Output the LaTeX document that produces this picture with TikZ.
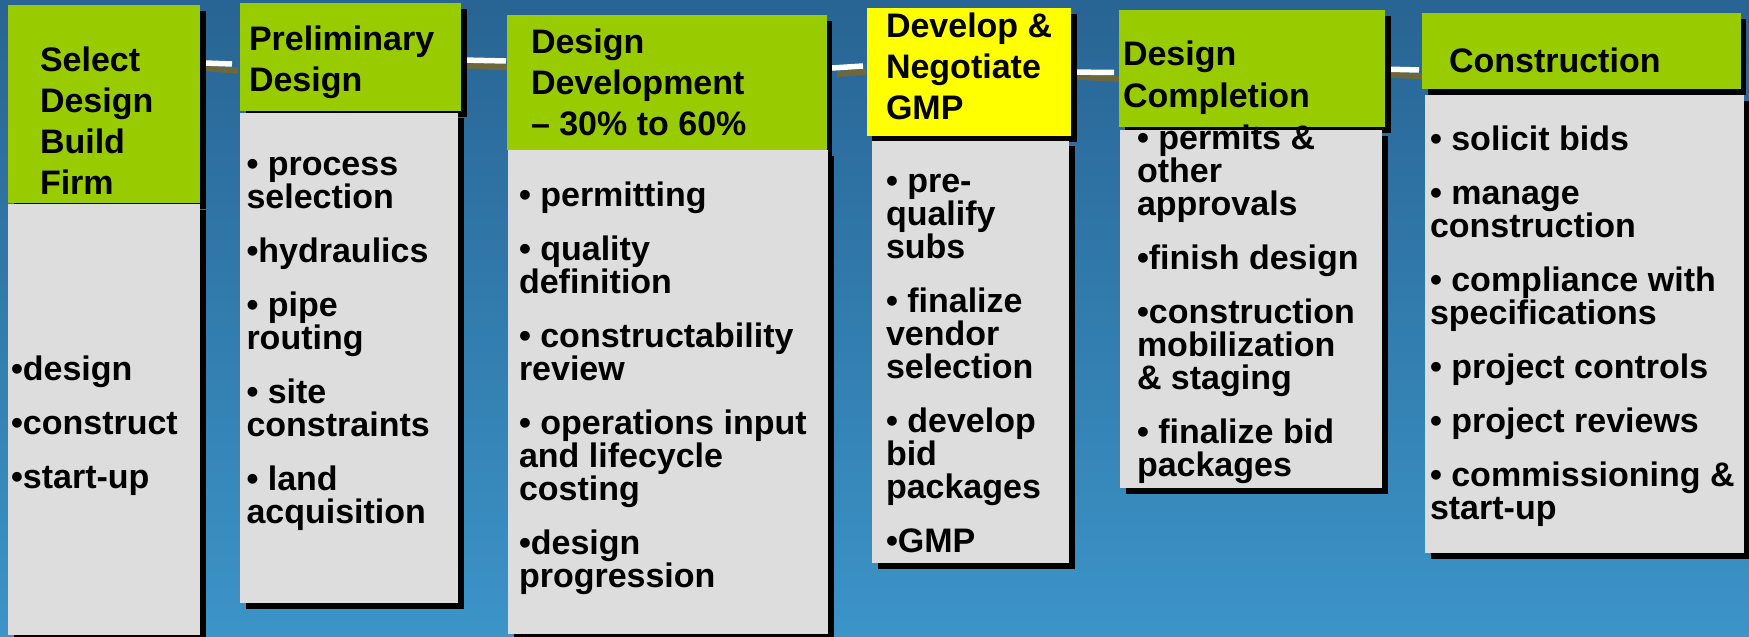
\documentclass[tikz,border=0pt]{standalone}
\usepackage{fontspec}
\setmainfont{Liberation Sans}
\usetikzlibrary{shadows}
\pgfdeclarelayer{sky}
\pgfdeclarelayer{bg}
\pgfsetlayers{sky,bg,main}
\definecolor{hdrgreen}{RGB}{153,204,0}
\definecolor{hdryellow}{RGB}{255,255,0}
\definecolor{bodygray}{RGB}{221,221,221}
\definecolor{rodshadow}{RGB}{108,104,60}
\definecolor{skytop}{RGB}{40,100,148}
\definecolor{skymid}{RGB}{46,120,170}
\definecolor{skybot}{RGB}{60,148,200}
\tikzset{
  panel/.style={rectangle, inner sep=0pt, outer sep=0pt, anchor=north west,
    drop shadow={shadow xshift=5.5pt, shadow yshift=-5.5pt, fill=black, opacity=1}},
  hdr/.style={panel, fill=hdrgreen},
  hdry/.style={panel, fill=hdryellow},
  bodybox/.style={panel, fill=bodygray},
  htext/.style={anchor=north west, inner sep=0pt, outer sep=0pt, align=left,
    font=\fontsize{34}{41}\selectfont\bfseries},
  btext/.style={anchor=north west, inner sep=0pt, outer sep=0pt, align=left,
    font=\fontsize{34}{33}\selectfont\bfseries},
  rodtop/.style={draw=white, line width=5.5pt},
  rodshade/.style={draw=rodshadow, line width=6pt},
}
\begin{document}
\begin{tikzpicture}[x=1pt, y=-1pt]
\useasboundingbox (0,0) rectangle (1749,637);
\begin{pgfonlayer}{sky}
\shade[top color=skytop, middle color=skymid, bottom color=skybot] (0,0) rectangle (1749,637);
\end{pgfonlayer}

% headers then bodies
\node[hdr,  minimum width=192pt,   minimum height=198pt]   (h1) at (8,5) {};
\node[bodybox, minimum width=192pt, minimum height=431pt]  (b1) at (8,204) {};
\node[hdr,  minimum width=221pt,   minimum height=107.7pt] (h2) at (240,3.3) {};
\node[bodybox, minimum width=218.3pt, minimum height=490.5pt] (b2) at (240,112.5) {};
\node[hdr,  minimum width=319.4pt, minimum height=135pt]   (h3) at (507.3,15) {};
\node[bodybox, minimum width=320pt, minimum height=484pt]  (b3) at (508,150) {};
\node[hdry, minimum width=204.3pt, minimum height=128pt]   (h4) at (866.7,8) {};
\node[bodybox, minimum width=197pt, minimum height=422.5pt] (b4) at (872,140.5) {};
\node[hdr,  minimum width=266pt,   minimum height=117pt]   (h5) at (1119,10) {};
\node[bodybox, minimum width=262pt, minimum height=358pt]  (b5) at (1120,130) {};
\node[hdr,  minimum width=318.7pt, minimum height=76pt]    (h6) at (1422,13.3) {};
\node[bodybox, minimum width=319pt, minimum height=458pt]  (b6) at (1425,95) {};

% connector rods
\coordinate (r12a) at (205,63);    \coordinate (r12b) at (232,64);
\coordinate (s12a) at (206,68.5);  \coordinate (s12b) at (238,70.5);
\coordinate (r23a) at (462,60);    \coordinate (r23b) at (506,61);
\coordinate (s23a) at (466,65.5);  \coordinate (s23b) at (508,67.5);
\coordinate (r34a) at (832,68);    \coordinate (r34b) at (863,66);
\coordinate (s34a) at (837,74);    \coordinate (s34b) at (866,72);
\coordinate (r45a) at (1068,72);   \coordinate (r45b) at (1114,72.5);
\coordinate (s45a) at (1073,76.5); \coordinate (s45b) at (1120,79);
\coordinate (r56a) at (1381,69);   \coordinate (r56b) at (1419,70);
\coordinate (s56a) at (1387,74.5); \coordinate (s56b) at (1425,76.5);
\begin{pgfonlayer}{bg}
\draw[rodshade] (s12a) -- (s12b);
\draw[rodtop]   (r12a) -- (r12b);
\draw[rodshade] (s23a) -- (s23b);
\draw[rodtop]   (r23a) -- (r23b);
\draw[rodshade] (s34a) -- (s34b);
\draw[rodtop]   (r34a) -- (r34b);
\draw[rodshade] (s45a) -- (s45b);
\draw[rodtop]   (r45a) -- (r45b);
\draw[rodshade] (s56a) -- (s56b);
\draw[rodtop]   (r56a) -- (r56b);
\end{pgfonlayer}

% header texts (north = first baseline - 27)
\node[htext] (t1) at (40,44)   {\rule{0pt}{27pt}Select\\Design\\Build\\Firm};
\node[htext] (t2) at (249,23)  {\rule{0pt}{27pt}Preliminary\\Design};
\node[htext] (t3) at (531,26)  {\rule{0pt}{27pt}Design\\Development\\– 30\% to 60\%};
\node[htext] (t4) at (886,10)  {\rule{0pt}{27pt}Develop \&\\Negotiate\\GMP};
\node[htext, font=\fontsize{34}{42}\selectfont\bfseries] (t5) at (1123,38) {\rule{0pt}{27pt}Design\\Completion};
\node[htext] (t6) at (1449,45) {\rule{0pt}{27pt}Construction};

% body texts
\node[btext] (l1) at (11,353) {\rule{0pt}{27pt}•design\\[21pt]•construct\\[21pt]•start-up};
\node[btext] (l2) at (246.5,148) {\rule{0pt}{27pt}• process\\selection\\[21pt]•hydraulics\\[21pt]• pipe\\routing\\[21pt]• site\\constraints\\[21pt]• land\\acquisition};
\node[btext] (l3) at (519,179) {\rule{0pt}{27pt}• permitting\\[21pt]• quality\\definition\\[21pt]• constructability\\review\\[21pt]• operations input\\and lifecycle\\costing\\[21pt]•design\\progression};
\node[btext] (l4) at (886,165) {\rule{0pt}{27pt}• pre-\\qualify\\subs\\[21pt]• finalize\\vendor\\selection\\[21pt]• develop\\bid\\packages\\[21pt]•GMP};
\node[btext] (l5) at (1137,122) {\rule{0pt}{27pt}• permits \&\\other\\approvals\\[21pt]•finish design\\[21pt]•construction\\mobilization\\\& staging\\[21pt]• finalize bid\\packages};
\node[btext] (l6) at (1430,123) {\rule{0pt}{27pt}• solicit bids\\[21pt]• manage\\construction\\[21pt]• compliance with\\specifications\\[21pt]• project controls\\[21pt]• project reviews\\[21pt]• commissioning \&\\start-up};
\end{tikzpicture}
\end{document}
